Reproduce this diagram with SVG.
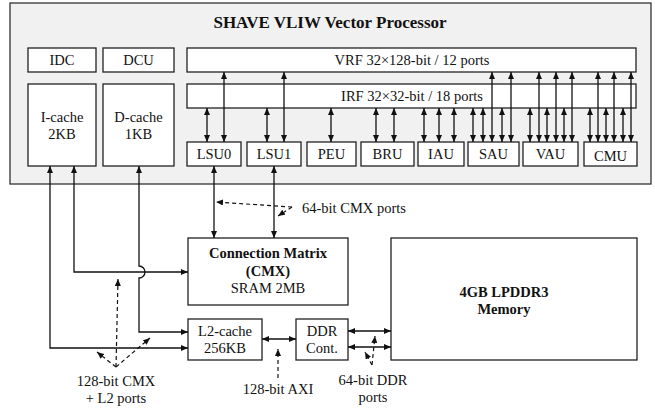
<svg xmlns="http://www.w3.org/2000/svg" width="655" height="408" viewBox="0 0 655 408">
<defs>
<marker id="ah" viewBox="0 0 7 6" refX="7" refY="3" markerWidth="7" markerHeight="6" markerUnits="userSpaceOnUse" orient="auto-start-reverse">
<path d="M0,0 L7,3 L0,6 z" fill="#111"/>
</marker>
<style>
.box{fill:#fff;stroke:#222;stroke-width:1.3}
.outer{fill:#f1f1f1;stroke:#333;stroke-width:1.3}
.t{font-family:'Times New Roman','Liberation Serif','DejaVu Serif',serif;font-size:14.5px;fill:#111;text-anchor:middle}
.b{font-weight:bold}
.c{fill:none;stroke:#111;stroke-width:1.3}
.a{marker-end:url(#ah)}
.aa{marker-start:url(#ah);marker-end:url(#ah)}
.d{fill:none;stroke:#111;stroke-width:1.2;stroke-dasharray:4,3}
</style>
</defs>
<g id="processor">
<rect class="outer" x="10" y="3" width="641" height="181"/>
<text class="t b" x="330" y="28" style="font-size:17px">SHAVE VLIW Vector Processor</text>
</g>
<g id="idc"><rect class="box" x="28" y="48" width="68" height="24"/><text class="t" x="62" y="65">IDC</text></g>
<g id="dcu"><rect class="box" x="103" y="48" width="71" height="24"/><text class="t" x="138.5" y="65">DCU</text></g>
<g id="icache"><rect class="box" x="28" y="84" width="68" height="82"/><text class="t" x="62" y="122">I-cache</text><text class="t" x="62" y="139">2KB</text></g>
<g id="dcache"><rect class="box" x="103" y="84" width="71" height="82"/><text class="t" x="138.5" y="122">D-cache</text><text class="t" x="138.5" y="139">1KB</text></g>
<g id="vrf"><rect class="box" x="187" y="48" width="449" height="24"/><text class="t" x="412" y="65">VRF 32×128-bit / 12 ports</text></g>
<g id="irf"><rect class="box" x="187" y="84" width="449" height="24"/><text class="t" x="412" y="101">IRF 32×32-bit / 18 ports</text></g>
<g id="lsu0"><rect class="box" x="187" y="142" width="54" height="24"/><text class="t" x="214" y="159">LSU0</text></g>
<g id="lsu1"><rect class="box" x="247" y="142" width="54" height="24"/><text class="t" x="274" y="159">LSU1</text></g>
<g id="peu"><rect class="box" x="307" y="142" width="49" height="24"/><text class="t" x="331.5" y="159">PEU</text></g>
<g id="bru"><rect class="box" x="361" y="142" width="53" height="24"/><text class="t" x="387.5" y="159">BRU</text></g>
<g id="iau"><rect class="box" x="418" y="142" width="46" height="24"/><text class="t" x="441" y="159">IAU</text></g>
<g id="sau"><rect class="box" x="468" y="142" width="51" height="24"/><text class="t" x="493.5" y="159">SAU</text></g>
<g id="vau"><rect class="box" x="523" y="142" width="55" height="24"/><text class="t" x="550.5" y="159">VAU</text></g>
<g id="cmu"><rect class="box" x="584" y="142" width="53" height="24"/><text class="t" x="610.5" y="161">CMU</text></g>
<g id="cmx"><rect class="box" x="188" y="238" width="160" height="67"/><text class="t b" x="268" y="258">Connection Matrix</text><text class="t b" x="268" y="276">(CMX)</text><text class="t" x="268" y="293">SRAM 2MB</text></g>
<g id="l2"><rect class="box" x="188" y="319" width="74" height="41"/><text class="t" x="225" y="336">L2-cache</text><text class="t" x="225" y="353">256KB</text></g>
<g id="ddrc"><rect class="box" x="296" y="319" width="52" height="41"/><text class="t" x="322" y="336">DDR</text><text class="t" x="322" y="353">Cont.</text></g>
<g id="memory"><rect class="box" x="391" y="238" width="246" height="122"/><text class="t b" x="504" y="297">4GB LPDDR3</text><text class="t b" x="504" y="314">Memory</text></g>
<g id="connectors">
<line class="c aa" x1="207" y1="108" x2="207" y2="142"/>
<line class="c aa" x1="267" y1="108" x2="267" y2="142"/>
<line class="c aa" x1="331" y1="108" x2="331" y2="142"/>
<line class="c aa" x1="376" y1="108" x2="376" y2="142"/>
<line class="c aa" x1="394" y1="108" x2="394" y2="142"/>
<line class="c aa" x1="424" y1="108" x2="424" y2="142"/>
<line class="c aa" x1="439" y1="108" x2="439" y2="142"/>
<line class="c aa" x1="454" y1="108" x2="454" y2="142"/>
<line class="c aa" x1="473" y1="108" x2="473" y2="142"/>
<line class="c aa" x1="483" y1="108" x2="483" y2="142"/>
<line class="c aa" x1="502" y1="108" x2="502" y2="142"/>
<line class="c aa" x1="530" y1="108" x2="530" y2="142"/>
<line class="c aa" x1="547" y1="108" x2="547" y2="142"/>
<line class="c aa" x1="564" y1="108" x2="564" y2="142"/>
<line class="c aa" x1="590" y1="108" x2="590" y2="142"/>
<line class="c aa" x1="606" y1="108" x2="606" y2="142"/>
<line class="c aa" x1="623" y1="108" x2="623" y2="142"/>
<line class="c aa" x1="224" y1="72" x2="224" y2="142"/>
<line class="c aa" x1="284" y1="72" x2="284" y2="142"/>
<line class="c aa" x1="492" y1="72" x2="492" y2="142"/>
<line class="c aa" x1="511" y1="72" x2="511" y2="142"/>
<line class="c aa" x1="539" y1="72" x2="539" y2="142"/>
<line class="c aa" x1="556" y1="72" x2="556" y2="142"/>
<line class="c aa" x1="572" y1="72" x2="572" y2="142"/>
<line class="c aa" x1="598" y1="72" x2="598" y2="142"/>
<line class="c aa" x1="614" y1="72" x2="614" y2="142"/>
<line class="c aa" x1="631" y1="72" x2="631" y2="142"/>
<path class="c aa" d="M50,166V348H188"/>
<path class="c aa" d="M74,166V272H188"/>
<path class="c aa" d="M139,166V266A6,6 0 0 1 139,278V332H188"/>
<path class="c aa" d="M214,166V238"/>
<path class="c aa" d="M274,166V238"/>
<path class="c aa" d="M262,339H296"/>
<path class="c aa" d="M348,331H391"/>
<path class="c aa" d="M348,347H391"/>
<path class="d a" d="M292,207L216,202"/>
<path class="d a" d="M292,207L278,216"/>
<path class="d a" d="M116,367L118,279"/>
<path class="d a" d="M116,367L97,352"/>
<path class="d a" d="M116,367L150,338"/>
<path class="d a" d="M278,378V349"/>
<path class="d a" d="M372,365L375,336"/>
<path class="d a" d="M372,365L365,352"/>
</g>
<g id="labels">
<text class="t" x="302" y="213" style="text-anchor:start">64-bit CMX ports</text>
<text class="t" x="116" y="386">128-bit CMX</text>
<text class="t" x="116" y="403">+ L2 ports</text>
<text class="t" x="278" y="394">128-bit AXI</text>
<text class="t" x="373" y="385">64-bit DDR</text>
<text class="t" x="373" y="402">ports</text>
</g>
</svg>
